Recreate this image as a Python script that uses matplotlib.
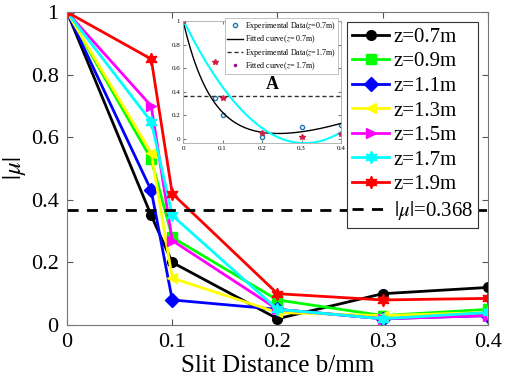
import numpy as np
import matplotlib
matplotlib.use('Agg')
import matplotlib.pyplot as plt

plt.rcParams['font.family'] = ['Liberation Serif', 'DejaVu Serif']
plt.rcParams['mathtext.fontset'] = 'stix'

# slit distance b (mm)
b = [0, 0.08, 0.1, 0.2, 0.3, 0.4]

# |mu| for each propagation distance z
mu_07 = [1, 0.35, 0.20, 0.02, 0.10, 0.12]
mu_09 = [1, 0.53, 0.28, 0.08, 0.03, 0.05]
mu_11 = [1, 0.43, 0.08, 0.05, 0.02, 0.03]
mu_13 = [1, 0.55, 0.15, 0.04, 0.03, 0.04]
mu_15 = [1, 0.70, 0.27, 0.05, 0.02, 0.03]
mu_17 = [1, 0.65, 0.35, 0.05, 0.02, 0.04]
mu_19 = [1, 0.85, 0.42, 0.10, 0.08, 0.085]

labels = ['z=0.7m', 'z=0.9m', 'z=1.1m', 'z=1.3m', 'z=1.5m', 'z=1.7m', 'z=1.9m']
threshold = 0.368

hexagram = (6, 1, 0)
styles = [
    ('#000000', 'o'),
    ('#00FF00', 's'),
    ('#0000FF', 'D'),
    ('#FFFF00', '<'),
    ('#FF00FF', '>'),
    ('#00FFFF', hexagram),
    ('#FF0000', hexagram),
]


def exp_poly_fit(x, y, xs, k=14.0):
    # least squares on basis exp(-kx), 1, x, x^2
    x = np.asarray(x)
    A = np.column_stack([np.exp(-k * x), np.ones_like(x), x, x ** 2])
    coef, *_ = np.linalg.lstsq(A, np.asarray(y), rcond=None)
    As = np.column_stack([np.exp(-k * xs), np.ones_like(xs), xs, xs ** 2])
    return As @ coef


fig = plt.figure(figsize=(5.05, 3.9), dpi=100)
ax = fig.add_axes([0.1327, 0.1667, 0.8336, 0.8023])

series = [mu_07, mu_09, mu_11, mu_13, mu_15, mu_17, mu_19]
for vals, lab, (col, mk) in zip(series, labels, styles):
    ms = 9 if mk == hexagram else 7
    ax.plot(b, vals, color=col, marker=mk, markersize=ms, lw=2, label=lab)
ax.axhline(threshold, color='k', ls=(0, (4, 3)), lw=2, label=r'$|\mu|$=0.368')

ax.set_xlim(0, 0.4)
ax.set_ylim(0, 1)
ax.set_xticks([0, 0.1, 0.2, 0.3, 0.4])
ax.set_xticklabels(['0', '0.1', '0.2', '0.3', '0.4'])
ax.set_yticks([0, 0.2, 0.4, 0.6, 0.8, 1])
ax.set_yticklabels(['0', '0.2', '0.4', '0.6', '0.8', '1'])
ax.tick_params(direction='in', top=True, right=True, labelsize=16, length=4,
               color='#555555', pad=6)
for s in ax.spines.values():
    s.set_color('#777777')
ax.set_xlabel('Slit Distance b/mm', fontsize=18, labelpad=2)
ax.set_ylabel(r'$|\mu|$', fontsize=18, labelpad=2)

leg = ax.legend(loc='upper right', bbox_to_anchor=(478 / 505, 1 - 22 / 390),
                bbox_transform=fig.transFigure, fontsize=15, frameon=True,
                fancybox=False, framealpha=1, edgecolor='#333333',
                handlelength=1.8, handletextpad=0.2, labelspacing=0.24,
                borderpad=0.25, borderaxespad=0)
leg.get_frame().set_linewidth(0.8)

# inset with fitted curves
ins = fig.add_axes([0.3624, 0.633, 0.3129, 0.313])
xf = np.linspace(0, 0.4, 200)
fit_07 = exp_poly_fit(b, mu_07, xf)
fit_17 = np.polyval(np.polyfit(b, mu_17, 2), xf)
ins.plot(b, mu_07, 'o', mfc='none', mec='#1f77b4', mew=1, ms=3,
         label=r'Experimental Data($z$=0.7m)')
ins.plot(xf, fit_07, color='k', lw=1, label=r'Fitted curve($z$= 0.7m)')
ins.axhline(threshold, color='#333333', ls=(0, (3, 2)), lw=1,
            label=r'Experimental Data($z$=1.7m)')
ins.plot(xf, fit_17, color='#00FFFF', lw=1.5)
ins.plot(b, mu_17, ls='none', marker='*', color='#D0204A', ms=4)
ins.plot([], [], ls='none', marker='.', color='#901090', ms=3,
         label=r'Fitted curve($z$= 1.7m)')
ins.set_xlim(0, 0.4)
ins.set_ylim(-0.035, 1.0)
ins.set_xticks([0, 0.1, 0.2, 0.3, 0.4])
ins.set_xticklabels(['0', '0.1', '0.2', '0.3', '0.4'])
ins.set_yticks([0, 0.2, 0.4, 0.6, 0.8, 1])
ins.set_yticklabels(['0', '0.2', '0.4', '0.6', '0.8', '1'])
ins.tick_params(direction='in', top=True, right=True, labelsize=5, length=2,
                pad=2, color='#777777')
for s in ins.spines.values():
    s.set_color('#aaaaaa')
    s.set_linewidth(0.6)
ins.text(0.225, 0.46, 'A', fontsize=13, fontweight='bold', ha='center', va='center')
ileg = ins.legend(loc='upper right', bbox_to_anchor=(338 / 505, 1 - 18 / 390),
                  bbox_transform=fig.transFigure, fontsize=5.8, frameon=True,
                  fancybox=False, framealpha=1, edgecolor='#aaaaaa',
                  handlelength=2.0, handletextpad=0.3, labelspacing=0.2,
                  borderpad=0.25, borderaxespad=0)
ileg.get_frame().set_linewidth(0.5)

fig.savefig('out.png', dpi=100)
